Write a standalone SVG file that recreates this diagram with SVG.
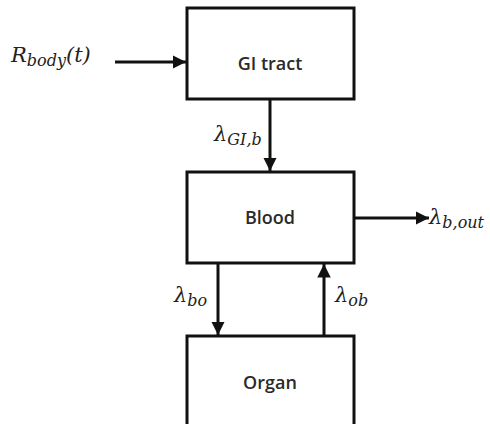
<svg xmlns="http://www.w3.org/2000/svg" width="490" height="424" viewBox="0 0 490 424">
  <style>
    .box { fill: #ffffff; stroke: #111111; stroke-width: 3; }
    .lbl { font-family: "Open Sans", "Liberation Sans", sans-serif; font-size: 18px; font-weight: 600; fill: #2a2a2a; text-anchor: middle; }
    .math { font-family: "DejaVu Serif", "Liberation Serif", serif; font-style: italic; fill: #222222; font-size: 21px; }
    .sub { font-size: 16px; }
    .wire { stroke: #111111; stroke-width: 3; fill: none; }
  </style>
  <defs>
    <marker id="arrow" viewBox="0 0 10 10" refX="10" refY="5" markerWidth="4.5" markerHeight="4.5" orient="auto" markerUnits="strokeWidth">
      <path d="M0,0 L10,5 L0,10 Z" fill="#111111"/>
    </marker>
  </defs>
  <rect width="490" height="424" fill="#ffffff"/>

  <g id="gi-tract">
    <rect class="box" x="187" y="8" width="167" height="91"/>
    <text class="lbl" x="270" y="70">GI tract</text>
  </g>
  <g id="blood">
    <rect class="box" x="187" y="172" width="167" height="91"/>
    <text class="lbl" x="270" y="224">Blood</text>
  </g>
  <g id="organ">
    <rect class="box" x="187" y="336" width="167" height="100"/>
    <text class="lbl" x="270" y="389">Organ</text>
  </g>

  <g id="connectors">
    <line class="wire" x1="115" y1="62" x2="186" y2="62" marker-end="url(#arrow)"/>
    <line class="wire" x1="270" y1="99" x2="270" y2="171" marker-end="url(#arrow)"/>
    <line class="wire" x1="354" y1="218" x2="429" y2="218" marker-end="url(#arrow)"/>
    <line class="wire" x1="218" y1="263" x2="218" y2="335" marker-end="url(#arrow)"/>
    <line class="wire" x1="324" y1="336" x2="324" y2="264" marker-end="url(#arrow)"/>
  </g>

  <g id="labels">
    <text class="math" x="11" y="62">R<tspan class="sub" dy="4">body</tspan><tspan dy="-4">(t)</tspan></text>
    <text class="math" x="214" y="141">λ<tspan class="sub" dy="4">GI,b</tspan></text>
    <text class="math" x="429" y="224">λ<tspan class="sub" dy="4">b,out</tspan></text>
    <text class="math" x="174" y="302">λ<tspan class="sub" dy="4">bo</tspan></text>
    <text class="math" x="335" y="302">λ<tspan class="sub" dy="4">ob</tspan></text>
  </g>
</svg>
